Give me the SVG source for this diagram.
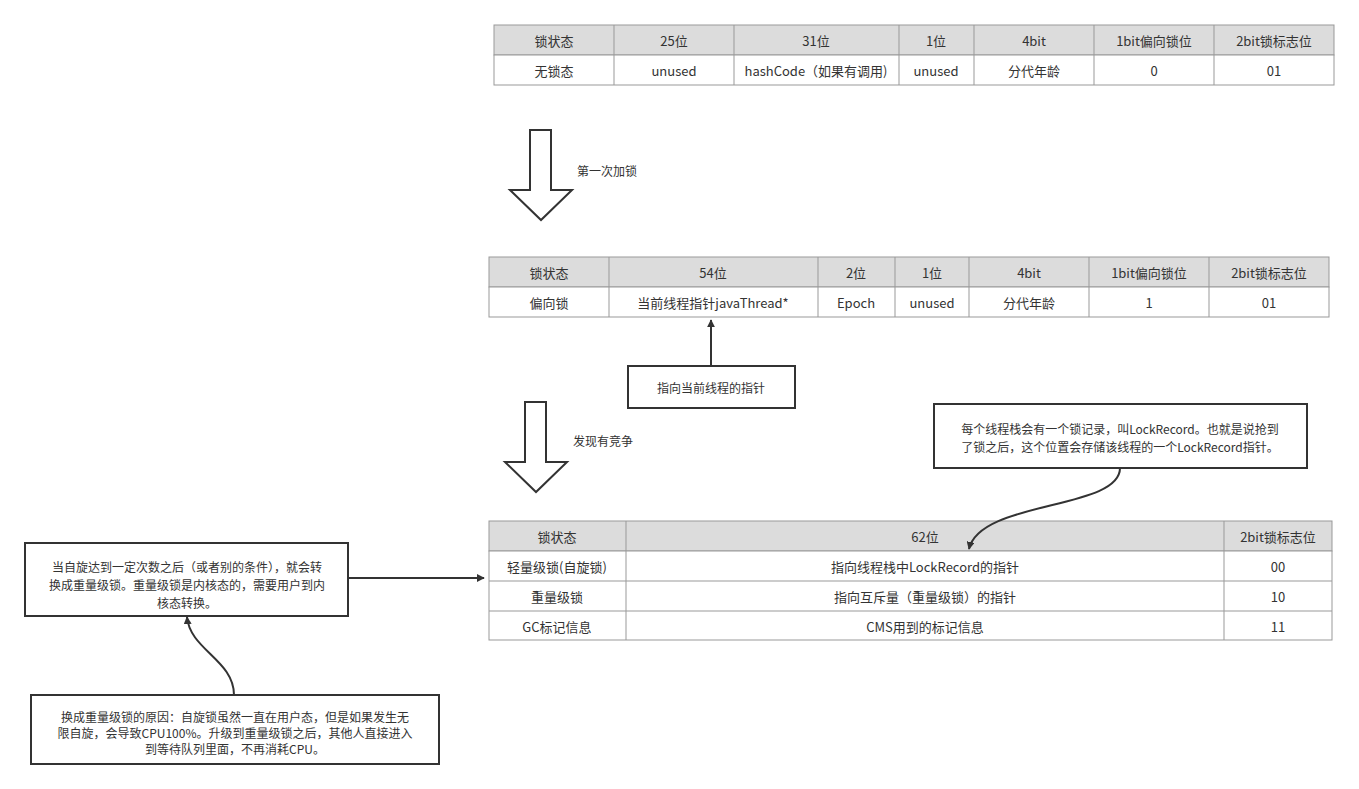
<svg xmlns="http://www.w3.org/2000/svg" width="1359" height="789" viewBox="0 0 1359 789">
<style>
text{font-family:"Noto Sans CJK SC","Noto Sans",sans-serif;font-size:13px;fill:#333;text-anchor:middle;dominant-baseline:central}
.h{fill:#dcdcdc;stroke:#999}
.c{fill:#fff;stroke:#999}
.b{fill:#fff;stroke:#333;stroke-width:2}
.l{fill:none;stroke:#333;stroke-width:2}
.s{font-size:12px}
</style>
<defs><marker id="a" viewBox="0 0 10 10" refX="9" refY="5" markerWidth="8" markerHeight="8" markerUnits="userSpaceOnUse" orient="auto"><path d="M0,0L10,5L0,10z" fill="#333"/></marker></defs>
<rect width="1359" height="789" fill="#fff"/>
<g id="table1">
<rect class="h" x="494" y="25" width="840" height="30"/><rect class="c" x="494" y="55" width="840" height="30"/>
<path d="M614,25V85M734,25V85M899,25V85M974,25V85M1094,25V85M1214,25V85" stroke="#999"/>
<text x="554" y="40">锁状态</text><text x="674" y="40">25位</text><text x="816" y="40">31位</text><text x="936" y="40">1位</text><text x="1034" y="40">4bit</text><text x="1154" y="40">1bit偏向锁位</text><text x="1274" y="40">2bit锁标志位</text>
<text x="554" y="70">无锁态</text><text x="674" y="70">unused</text><text x="816" y="70">hashCode（如果有调用)</text><text x="936" y="70">unused</text><text x="1034" y="70">分代年龄</text><text x="1154" y="70">0</text><text x="1274" y="70">01</text>
</g>
<g id="arrow1"><path d="M530,130H551V190H572L541,220L510,190H530Z" fill="#fff" stroke="#333" stroke-width="2"/><text x="607" y="170" class="s">第一次加锁</text></g>
<g id="table2">
<rect class="h" x="489" y="257" width="840" height="30"/><rect class="c" x="489" y="287" width="840" height="30"/>
<path d="M609,257V317M818,257V317M895,257V317M969,257V317M1089,257V317M1209,257V317" stroke="#999"/>
<text x="549" y="272">锁状态</text><text x="713" y="272">54位</text><text x="856" y="272">2位</text><text x="932" y="272">1位</text><text x="1029" y="272">4bit</text><text x="1149" y="272">1bit偏向锁位</text><text x="1269" y="272">2bit锁标志位</text>
<text x="549" y="302">偏向锁</text><text x="713" y="302">当前线程指针javaThread*</text><text x="856" y="302">Epoch</text><text x="932" y="302">unused</text><text x="1029" y="302">分代年龄</text><text x="1149" y="302">1</text><text x="1269" y="302">01</text>
</g>
<g id="note1"><rect class="b" x="628" y="366" width="167" height="42"/><text x="711" y="387" class="s">指向当前线程的指针</text></g>
<g id="arrow2"><path d="M525,402H546V462H567L536,492L505,462H525Z" fill="#fff" stroke="#333" stroke-width="2"/><text x="603" y="440" class="s">发现有竞争</text></g>
<g id="note2"><rect class="b" x="934" y="404" width="373" height="64"/><text x="1120" y="428" class="s">每个线程栈会有一个锁记录，叫LockRecord。也就是说抢到</text><text x="1120" y="446" class="s">了锁之后，这个位置会存储该线程的一个LockRecord指针。</text></g>
<g id="table3">
<rect class="h" x="489" y="521" width="843" height="30"/><rect class="c" x="489" y="551" width="843" height="89"/>
<path d="M489,581H1332M489,611H1332M626,521V640M1224,521V640" stroke="#999"/>
<text x="557" y="536">锁状态</text><text x="925" y="536">62位</text><text x="1278" y="536">2bit锁标志位</text>
<text x="557" y="566">轻量级锁(自旋锁)</text><text x="925" y="566">指向线程栈中LockRecord的指针</text><text x="1278" y="566">00</text>
<text x="557" y="596">重量级锁</text><text x="925" y="596">指向互斥量（重量级锁）的指针</text><text x="1278" y="596">10</text>
<text x="557" y="626">GC标记信息</text><text x="925" y="626">CMS用到的标记信息</text><text x="1278" y="626">11</text>
</g>
<g id="note3"><rect class="b" x="25" y="543" width="323" height="73"/><text x="187" y="566" class="s">当自旋达到一定次数之后（或者别的条件），就会转</text><text x="187" y="584" class="s">换成重量级锁。重量级锁是内核态的，需要用户到内</text><text x="187" y="602" class="s">核态转换。</text></g>
<g id="note4"><rect class="b" x="31" y="695" width="408" height="69"/><text x="235" y="716" class="s">换成重量级锁的原因：自旋锁虽然一直在用户态，但是如果发生无</text><text x="235" y="732" class="s">限自旋，会导致CPU100%。升级到重量级锁之后，其他人直接进入</text><text x="235" y="748" class="s">到等待队列里面，不再消耗CPU。</text></g>
<g id="connectors">
<path class="l" d="M711,366V320" marker-end="url(#a)"/>
<path class="l" d="M1120,468C1120,510 980,500 969,549" marker-end="url(#a)"/>
<path class="l" d="M348,578H484" marker-end="url(#a)"/>
<path class="l" d="M234,695C234,660 190,650 187,617" marker-end="url(#a)"/>
</g>
</svg>
